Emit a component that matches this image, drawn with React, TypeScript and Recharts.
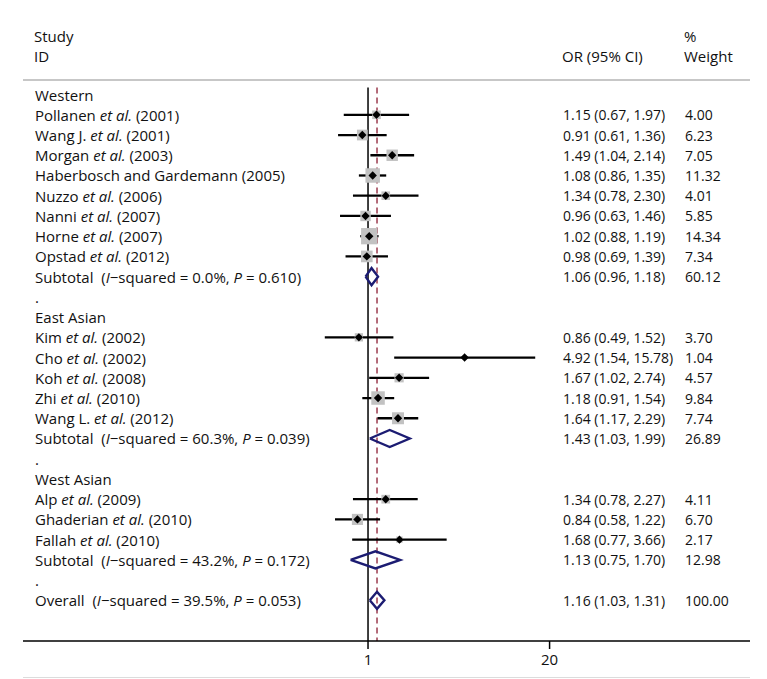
import React from 'react';
import { ComposedChart, XAxis, YAxis, Scatter, Line, ReferenceLine } from 'recharts';

// subgroups
const groupNames = ['Western', 'East Asian', 'West Asian'];
const groupOR = [1.06, 1.43, 1.13];
const groupLow = [0.96, 1.03, 0.75];
const groupHigh = [1.18, 1.99, 1.7];
const groupWeight = [60.12, 26.89, 12.98];
const groupI2 = ['0.0%', '60.3%', '43.2%'];
const groupP = ['0.610', '0.039', '0.172'];

// individual studies
const studyNames = [
  'Pollanen et al. (2001)',
  'Wang J. et al. (2001)',
  'Morgan et al. (2003)',
  'Haberbosch and Gardemann (2005)',
  'Nuzzo et al. (2006)',
  'Nanni et al. (2007)',
  'Horne et al. (2007)',
  'Opstad et al. (2012)',
  'Kim et al. (2002)',
  'Cho et al. (2002)',
  'Koh et al. (2008)',
  'Zhi et al. (2010)',
  'Wang L. et al. (2012)',
  'Alp et al. (2009)',
  'Ghaderian et al. (2010)',
  'Fallah et al. (2010)',
];
const studyGroup = [0, 0, 0, 0, 0, 0, 0, 0, 1, 1, 1, 1, 1, 2, 2, 2];
const studyOR = [1.15, 0.91, 1.49, 1.08, 1.34, 0.96, 1.02, 0.98, 0.86, 4.92, 1.67, 1.18, 1.64, 1.34, 0.84, 1.68];
const studyLow = [0.67, 0.61, 1.04, 0.86, 0.78, 0.63, 0.88, 0.69, 0.49, 1.54, 1.02, 0.91, 1.17, 0.78, 0.58, 0.77];
const studyHigh = [1.97, 1.36, 2.14, 1.35, 2.3, 1.46, 1.19, 1.39, 1.52, 15.78, 2.74, 1.54, 2.29, 2.27, 1.22, 3.66];
const studyWeight = [4.0, 6.23, 7.05, 11.32, 4.01, 5.85, 14.34, 7.34, 3.7, 1.04, 4.57, 9.84, 7.74, 4.11, 6.7, 2.17];

// pooled
const overallOR = 1.16;
const overallLow = 1.03;
const overallHigh = 1.31;
const overallWeight = 100;
const overallI2 = '39.5%';
const overallP = '0.053';

const xTicks = [1, 20];

const FONT = '"Open Sans", sans-serif';
const NAVY = '#1c1c72';
const BOX_SCALE = 4.3;
const DIAMOND_HALF = 0.42;

type Row = {
  kind: 'group' | 'study' | 'subtotal' | 'gap' | 'overall';
  label: string;
  or?: number;
  lo?: number;
  hi?: number;
  w?: number;
  i2?: string;
  p?: string;
};

const rows: Row[] = [];
groupNames.forEach((g, gi) => {
  rows.push({ kind: 'group', label: g });
  studyNames.forEach((n, si) => {
    if (studyGroup[si] !== gi) return;
    rows.push({ kind: 'study', label: n, or: studyOR[si], lo: studyLow[si], hi: studyHigh[si], w: studyWeight[si] });
  });
  rows.push({
    kind: 'subtotal', label: 'Subtotal', or: groupOR[gi], lo: groupLow[gi], hi: groupHigh[gi],
    w: groupWeight[gi], i2: groupI2[gi], p: groupP[gi],
  });
  rows.push({ kind: 'gap', label: '.' });
});
rows.push({
  kind: 'overall', label: 'Overall', or: overallOR, lo: overallLow, hi: overallHigh,
  w: overallWeight, i2: overallI2, p: overallP,
});

const studyPoints = rows
  .map((r, i) => ({ ...r, x: r.or, y: i }))
  .filter(r => r.kind === 'study');

const diamonds = rows
  .map((r, i) => ({ r, i }))
  .filter(({ r }) => r.kind === 'subtotal' || r.kind === 'overall')
  .map(({ r, i }) => [
    { x: r.lo, y: i },
    { x: r.or, y: i - DIAMOND_HALF },
    { x: r.hi, y: i },
    { x: r.or, y: i + DIAMOND_HALF },
    { x: r.lo, y: i },
  ]);

const fmt = (v: number) => v.toFixed(2);

function renderLabel(row: Row) {
  if (row.kind === 'subtotal' || row.kind === 'overall') {
    return [
      <tspan key="a">{row.label + '\u00a0\u00a0('}</tspan>,
      <tspan key="b" fontStyle="italic">I</tspan>,
      <tspan key="c">{'\u2212squared = ' + row.i2 + ', '}</tspan>,
      <tspan key="d" fontStyle="italic">P</tspan>,
      <tspan key="e">{'\u00a0= ' + row.p + ')'}</tspan>,
    ];
  }
  const parts = row.label.split('et al.');
  if (parts.length < 2) return row.label;
  return [
    <tspan key="a">{parts[0]}</tspan>,
    <tspan key="b" fontStyle="italic">et al.</tspan>,
    <tspan key="c">{parts[1]}</tspan>,
  ];
}

function RowTick(props: any) {
  const { x, y, payload } = props;
  const row = rows[payload.value];
  if (!row) return null;
  const left = x + 1;
  return (
    <g fontFamily={FONT} fill="#111">
      <text x={left + 11} y={y} dominantBaseline="central" fontSize={15}>
        {renderLabel(row)}
      </text>
      {row.or !== undefined && (
        <text x={left + 539} y={y} dominantBaseline="central" fontSize={14}>
          {`${fmt(row.or)} (${fmt(row.lo!)}, ${fmt(row.hi!)})`}
        </text>
      )}
      {row.w !== undefined && (
        <text x={left + 661} y={y} dominantBaseline="central" fontSize={14}>
          {fmt(row.w)}
        </text>
      )}
    </g>
  );
}

const BoxShape = (props: any) => {
  const { cx, cy, payload } = props;
  const s = BOX_SCALE * Math.sqrt(payload.w);
  return <rect x={cx - s / 2} y={cy - s / 2} width={s} height={s} fill="#c2c2c2" />;
};

const PointShape = (props: any) => {
  const { cx, cy } = props;
  const d = 4.2;
  return <polygon points={`${cx - d},${cy} ${cx},${cy - d} ${cx + d},${cy} ${cx},${cy + d}`} fill="#000" />;
};

export default function App() {
  return (
    <div style={{ position: 'absolute', left: 0, top: 0, width: 767, height: 679, background: '#fff', fontFamily: FONT }}>
      <svg width={767} height={80} style={{ position: 'absolute', left: 0, top: 0 }} fontFamily={FONT} fontSize={15} fill="#111">
        <text x={34} y={36} dominantBaseline="central">Study</text>
        <text x={34} y={56} dominantBaseline="central">ID</text>
        <text x={562} y={56} dominantBaseline="central">OR (95% CI)</text>
        <text x={684} y={36} dominantBaseline="central">%</text>
        <text x={684} y={56} dominantBaseline="central">Weight</text>
      </svg>
      <div style={{ position: 'absolute', left: 23, top: 677, width: 727, height: 1, background: '#dcdcdc' }} />
      <div style={{ position: 'absolute', left: 0, top: 0 }}>
        <ComposedChart
          width={767}
          height={679}
          margin={{ top: 80, right: 17, bottom: 8, left: 22 }}
          style={{ fontFamily: FONT }}
        >
          <XAxis
            type="number"
            dataKey="x"
            scale="log"
            domain={[0.00337, 546]}
            allowDataOverflow
            ticks={xTicks}
            height={30}
            tickSize={8}
            tickMargin={5}
            axisLine={{ stroke: '#000', strokeWidth: 1.5 }}
            tickLine={{ stroke: '#000', strokeWidth: 1.5 }}
            tick={{ fill: '#111', fontSize: 15, fontFamily: FONT }}
          />
          <YAxis
            type="number"
            dataKey="y"
            domain={[-0.72, 27.01]}
            allowDataOverflow
            reversed
            width={1}
            ticks={rows.map((_, i) => i)}
            interval={0}
            axisLine={false}
            tickLine={false}
            tickSize={0}
            tickMargin={0}
            tick={(p: any) => <RowTick {...p} />}
          />
          <ReferenceLine y={-0.72} stroke="#b4b4b4" strokeWidth={1.5} />
          <ReferenceLine
            segment={[{ x: 1, y: -0.35 }, { x: 1, y: 27.01 }]}
            stroke="#000"
            strokeWidth={1.5}
          />
          <ReferenceLine
            segment={[{ x: overallOR, y: -0.35 }, { x: overallOR, y: 27.01 }]}
            stroke="#9b3b4e"
            strokeWidth={1.5}
            strokeDasharray="6 4"
          />
          <Scatter data={studyPoints} shape={<BoxShape />} isAnimationActive={false} />
          {studyPoints.map((p, i) => (
            <ReferenceLine
              key={`ci-${i}`}
              segment={[{ x: p.lo, y: p.y }, { x: p.hi, y: p.y }]}
              stroke="#000"
              strokeWidth={2.3}
            />
          ))}
          <Scatter data={studyPoints} shape={<PointShape />} isAnimationActive={false} />
          {diamonds.map((d, i) => (
            <Line
              key={`dm-${i}`}
              data={d}
              dataKey="y"
              type="linear"
              stroke={NAVY}
              strokeWidth={2.4}
              strokeLinejoin="miter"
              dot={false}
              activeDot={false}
              isAnimationActive={false}
            />
          ))}
        </ComposedChart>
      </div>
    </div>
  );
}
